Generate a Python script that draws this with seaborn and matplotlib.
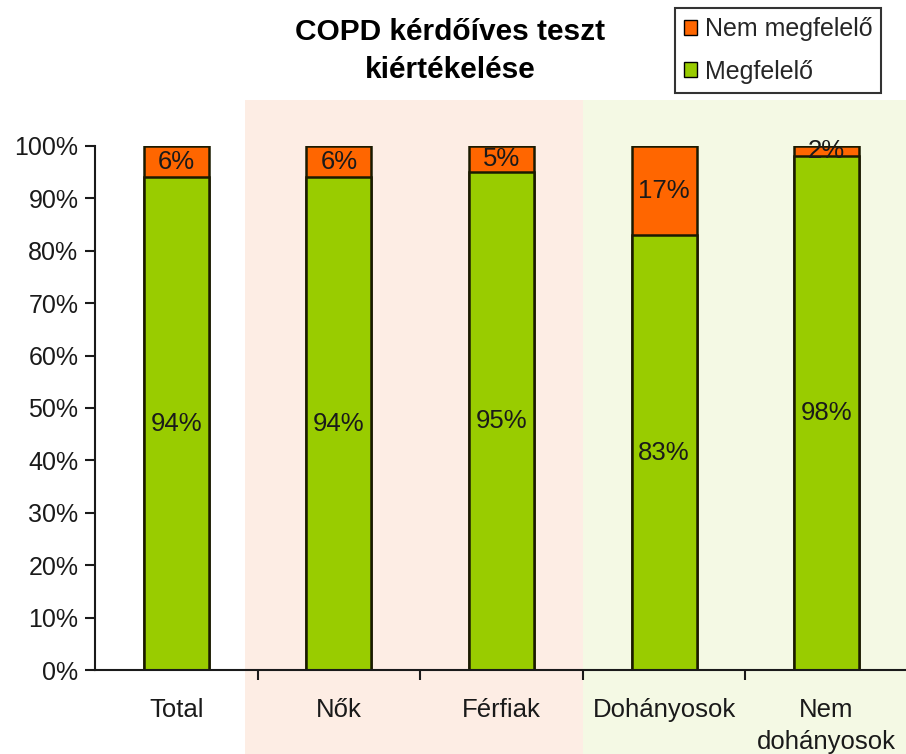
import matplotlib
matplotlib.use("Agg")
import matplotlib.pyplot as plt
import matplotlib.transforms as mtransforms
from matplotlib.patches import Patch, Rectangle
from matplotlib.ticker import MultipleLocator, FixedLocator, FuncFormatter
import pandas as pd
import seaborn as sns

# data
categories = ["Total", "Nők", "Férfiak", "Dohányosok", "Nem\ndohányosok"]
megfelelo = [94, 94, 95, 83, 98]
nem_megfelelo = [6, 6, 5, 17, 2]

green = "#99CC00"
orange = "#FF6600"

df = pd.DataFrame({
    "cat": categories,
    "ok": megfelelo,
    "not_ok": nem_megfelelo,
})
df["total"] = df["ok"] + df["not_ok"]

sns.set_theme(style="white")
plt.rcParams["font.family"] = ["Liberation Sans", "DejaVu Sans"]

fig = plt.figure(figsize=(9.06, 7.54), dpi=100)
ax = fig.add_axes([0.105, 0.1114, 0.897, 0.695])

# background bands (x in data, y in figure coords)
trans = mtransforms.blended_transform_factory(ax.transData, fig.transFigure)
fig.patches.append(Rectangle((0.42, 0), 2.5 - 0.42, 0.867, transform=trans,
                             facecolor="#FDEDE4", edgecolor="none", zorder=-10))
fig.patches.append(Rectangle((2.5, 0), 2.2, 0.867, transform=trans,
                             facecolor="#F4F9E4", edgecolor="none", zorder=-10))
ax.patch.set_alpha(0)

sns.barplot(data=df, x="cat", y="total", color=orange, width=0.4,
            edgecolor="#1a1a00", linewidth=1.8, saturation=1, ax=ax)
sns.barplot(data=df, x="cat", y="ok", color=green, width=0.4,
            edgecolor="#1a1a00", linewidth=1.8, saturation=1, ax=ax)

# value labels
for i, (a, b) in enumerate(zip(megfelelo, nem_megfelelo)):
    ax.text(i, a / 2, f"{a}%", ha="center", va="center", fontsize=18.5, color="#1a1a1a")
    ax.text(i, a + b / 2, f"{b}%", ha="center", va="center", fontsize=18.5, color="#1a1a1a")

ax.set_xlim(-0.5, 4.5)
ax.set_ylim(0, 100)
ax.yaxis.set_major_locator(MultipleLocator(10))
ax.yaxis.set_major_formatter(FuncFormatter(lambda v, p: f"{int(v)}%"))
ax.set_xlabel("")
ax.set_ylabel("")

ax.xaxis.set_minor_locator(FixedLocator([0.5, 1.5, 2.5, 3.5, 4.5]))
ax.tick_params(axis="x", which="major", length=0, pad=20, labelsize=18.5, colors="#1a1a1a")
ax.tick_params(axis="x", which="minor", length=7, width=1.5, direction="out",
               color="#1a1a1a", bottom=True)
ax.tick_params(axis="y", length=7, width=1.5, direction="out", left=True,
               labelsize=18, color="#1a1a1a", labelcolor="#1a1a1a", pad=5)
for lbl in ax.get_xticklabels():
    lbl.set_linespacing(1.45)

sns.despine(ax=ax, top=True, right=True)
for s in ["left", "bottom"]:
    ax.spines[s].set_linewidth(1.5)
    ax.spines[s].set_color("#1a1a1a")

fig.text(0.497, 0.932, "COPD kérdőíves teszt\nkiértékelése", ha="center", va="center",
         fontsize=21.5, fontweight="bold", linespacing=1.45, color="black")

handles = [Patch(facecolor=orange, edgecolor="black", label="Nem megfelelő"),
           Patch(facecolor=green, edgecolor="black", label="Megfelelő")]
leg = fig.legend(handles=handles, loc="upper left", bbox_to_anchor=(0.745, 0.989),
                 frameon=True, fancybox=False, fontsize=18, handlelength=0.55,
                 handleheight=0.55, handletextpad=0.3, labelspacing=0.75,
                 borderpad=0.35, borderaxespad=0)
leg.get_frame().set_edgecolor("black")
leg.get_frame().set_linewidth(1.5)

fig.savefig("out.png", dpi=100)
